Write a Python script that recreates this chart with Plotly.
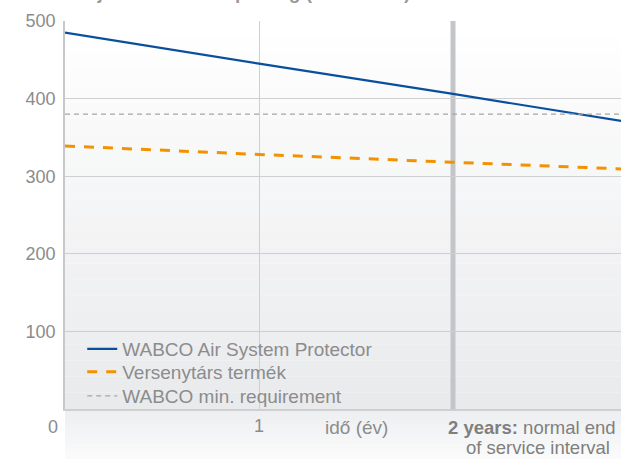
import plotly.graph_objects as go

# ---- data ----
years = [0, 1, 2, 3]
wabco_asp = [485, 445, 406, 366]
competitor = [339, 328, 318, 308]
min_req_x = [0, 3]
min_req_y = [380, 380]

series_names = ["WABCO Air System Protector", "Versenytárs termék", "WABCO min. requirement"]
y_ticks = [100, 200, 300, 400, 500]
x_ticks = [1]
x_ticktext = ["1"]
x_title = "idő (év)"
end_label_1 = "<b>2 years:</b> normal end"
end_label_2 = "of service interval"
chart_title = "<b>Olajleválasztási képesség (ml/100 km)</b>"

FONT = "Liberation Sans, Arial, sans-serif"
GREY_TXT = "#8c8c8c"

fig = go.Figure()
fig.add_trace(go.Scatter(x=years, y=wabco_asp, mode="lines", name=series_names[0],
                         legend="legend",
                         line=dict(color="#0a4f9e", width=2.2)))
fig.add_trace(go.Scatter(x=years, y=competitor, mode="lines", name=series_names[1],
                         legend="legend2",
                         line=dict(color="#f39200", width=3, dash="10px,9px")))
fig.add_trace(go.Scatter(x=min_req_x, y=min_req_y, mode="lines", name=series_names[2],
                         legend="legend3",
                         line=dict(color="#a5a5a5", width=1.2, dash="5px,4px")))

shapes = []
# gradient background of plot area
n = 24
def mix(c1, c2, t):
    return "rgb(%d,%d,%d)" % tuple(round(a + (b - a) * t) for a, b in zip(c1, c2))
top_c, bot_c = (255, 255, 255), (233, 234, 236)
for i in range(n):
    y0 = i / n
    y1 = (i + 1) / n
    t = 1 - (y0 + y1) / 2
    shapes.append(dict(type="rect", xref="paper", yref="paper", x0=0, x1=1, y0=y0, y1=y1,
                       fillcolor=mix(top_c, bot_c, t), line=dict(width=0), layer="below"))
# band below the plot
band_h = 50 / 388
m = 10
for i in range(m):
    y1 = -band_h * i / m
    y0 = -band_h * (i + 1) / m
    t = (i + 0.5) / m
    shapes.append(dict(type="rect", xref="paper", yref="paper", x0=0, x1=1, y0=y0, y1=y1,
                       fillcolor=mix((236, 238, 240), (251, 251, 251), t), line=dict(width=0),
                       layer="below"))
# thick vertical line at end of service interval
shapes.append(dict(type="line", xref="x", yref="paper", x0=2, x1=2, y0=0, y1=1,
                   line=dict(color="#c4c5c8", width=5), layer="between"))
fig.update_layout(shapes=shapes)

fig.add_annotation(x=0, y=0, xref="paper", yref="y", text="0", showarrow=False,
                   xanchor="right", yanchor="middle", xshift=-5, yshift=-18,
                   font=dict(family=FONT, size=18, color=GREY_TXT))
fig.add_annotation(x=1.5, y=0, xref="x", yref="y", text=x_title, showarrow=False,
                   xanchor="center", yanchor="middle", yshift=-18,
                   font=dict(family=FONT, size=19, color=GREY_TXT))
fig.add_annotation(x=2, y=0, xref="x", yref="y", text=end_label_1, showarrow=False,
                   xanchor="center", yanchor="middle", xshift=79, yshift=-18,
                   font=dict(family=FONT, size=18.5, color="#7f7f7f"))
fig.add_annotation(x=2, y=0, xref="x", yref="y", text=end_label_2, showarrow=False,
                   xanchor="center", yanchor="middle", xshift=85, yshift=-38,
                   font=dict(family=FONT, size=18.5, color="#7f7f7f"))
fig.add_annotation(x=0, y=1, xref="paper", yref="paper", text=chart_title, showarrow=False,
                   xanchor="left", yanchor="bottom", yshift=16,
                   font=dict(family=FONT, size=19, color="#9a9a9a"))

leg_common = dict(x=0.031, xanchor="left", yanchor="top", bgcolor="rgba(0,0,0,0)",
                  font=dict(family=FONT, size=19, color=GREY_TXT), itemwidth=30)

fig.update_layout(
    width=621, height=459,
    margin=dict(l=65, r=0, t=21, b=50),
    paper_bgcolor="white",
    plot_bgcolor="rgba(0,0,0,0)",
    font=dict(family=FONT, size=18, color=GREY_TXT),
    showlegend=True,
    legend=dict(y=0.2036, **leg_common),
    legend2=dict(y=0.1443, **leg_common),
    legend3=dict(y=0.0825, **leg_common),
    xaxis=dict(range=[0, 2.866], tickvals=x_ticks, ticktext=x_ticktext,
               showgrid=True, gridcolor="#cfcfd1", gridwidth=1,
               showline=True, linecolor="#cfcfd1", linewidth=1.5,
               zeroline=False, ticks="", fixedrange=True,
               tickfont=dict(family=FONT, size=18, color=GREY_TXT)),
    yaxis=dict(range=[0, 500], tickvals=y_ticks, showgrid=True, gridcolor="#cfcfd1",
               gridwidth=1.2, showline=True, linecolor="#c8c8ca", linewidth=1.5,
               zeroline=False, ticks="", ticklabelstandoff=4, fixedrange=True,
               tickfont=dict(family=FONT, size=18, color=GREY_TXT)),
)

fig.write_html("out.html", config={"displayModeBar": False},
               post_script="document.body.style.margin='0px';")
